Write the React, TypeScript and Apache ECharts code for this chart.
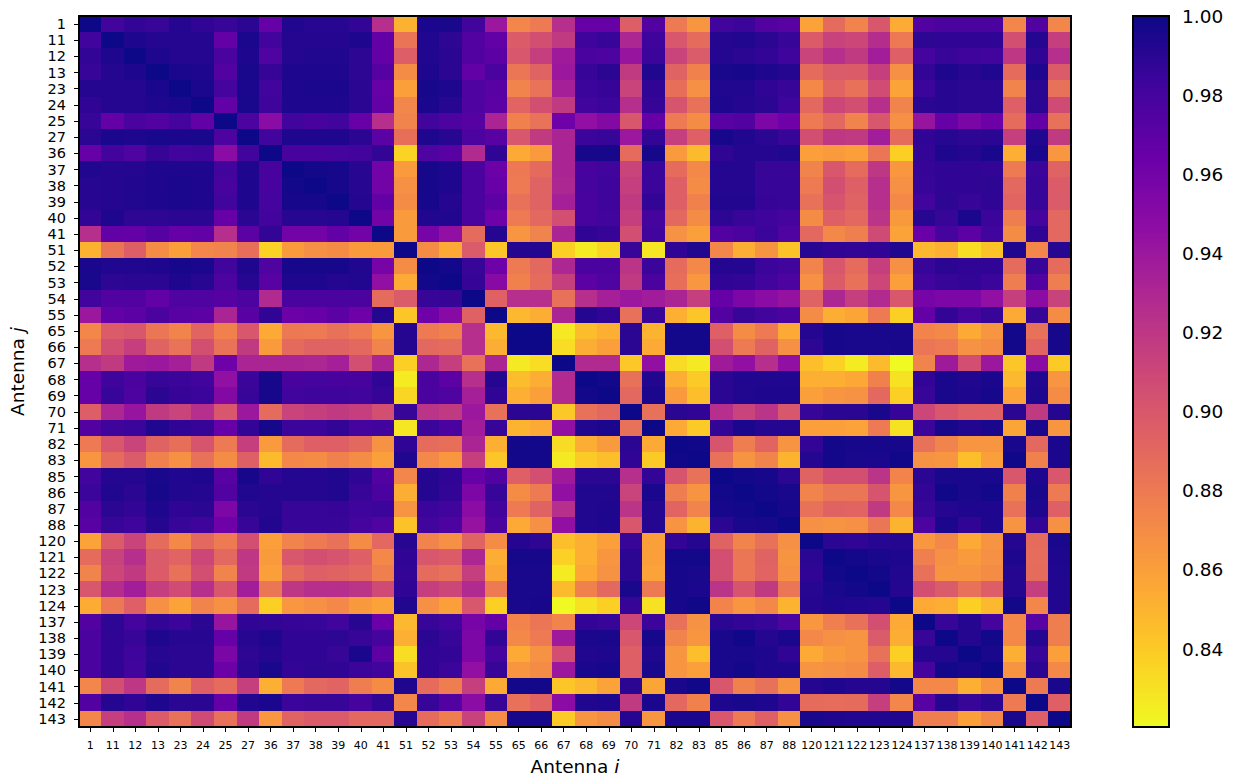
import React, { useEffect, useRef } from "react";
import * as echarts from "echarts";

const antennas = ["1","11","12","13","23","24","25","27","36","37","38","39","40","41","51","52","53","54","55","65","66","67","68","69","70","71","82","83","85","86","87","88","120","121","122","123","124","137","138","139","140","141","142","143"];

// Upper triangle of the symmetric matrix, in thousandths; each row starts at its diagonal cell.
const r1 = [1000,982,987,985,992,988,985,990,966,993,991,991,987,925,851,995,996,982,940,873,880,925,966,966,896,975,880,865,982,984,974,972,858,888,875,900,854,975,978,978,978,873,975,873];
const r11 = [1000,994,992,992,992,967,995,981,992,992,992,994,968,883,993,989,974,968,897,905,918,983,985,930,983,900,888,992,993,990,985,897,913,910,926,881,989,988,988,988,905,992,915];
const r12 = [1000,994,992,992,978,994,976,992,993,993,989,967,896,993,990,975,970,900,915,938,978,977,942,984,912,898,992,990,987,983,912,925,918,936,895,980,985,983,982,920,988,925];
const r13 = [1000,995,994,974,996,986,994,994,994,989,973,870,994,990,968,978,882,893,940,985,990,918,993,893,876,996,997,994,992,888,898,897,915,868,987,994,991,993,888,994,897];
const r23 = [1000,995,980,995,982,994,995,995,990,966,860,997,994,976,972,875,884,935,984,986,912,988,886,868,993,993,988,985,872,892,885,907,858,984,991,990,990,875,990,885];
const r24 = [1000,968,996,983,994,994,994,990,968,873,995,991,976,970,892,905,918,982,984,925,986,902,885,994,992,990,983,890,910,905,925,875,990,991,990,990,895,990,908];
const r25 = [1000,977,948,982,979,982,965,925,875,982,977,973,932,876,884,962,945,952,900,965,880,870,972,975,955,962,880,890,875,900,868,942,966,956,963,888,967,885];
const r27 = [1000,982,994,994,994,990,971,886,994,991,977,972,900,918,932,984,985,940,987,915,895,997,993,990,985,905,920,918,936,888,988,991,989,990,915,993,918];
const r36 = [1000,979,979,980,981,987,836,976,972,928,988,855,862,932,997,997,888,997,862,847,988,992,992,993,860,862,860,882,838,987,994,992,996,852,995,864];
const r37 = [1000,998,997,991,960,862,997,994,978,963,881,889,932,979,982,912,984,888,872,992,992,985,985,875,900,888,920,864,986,988,988,987,880,984,893];
const r38 = [1000,997,991,960,868,997,994,978,965,880,893,930,980,983,915,984,895,870,992,992,985,985,880,905,895,925,868,985,988,988,989,890,985,897];
const r39 = [1000,992,968,870,997,992,978,970,885,893,935,979,983,918,987,895,876,993,993,986,985,885,902,893,925,872,982,989,985,988,892,985,898];
const r40 = [1000,960,862,993,993,978,962,880,890,905,979,982,915,980,890,870,989,985,983,980,870,895,890,922,863,991,985,995,984,878,980,890];
const r41 = [1000,862,958,945,888,992,865,875,932,988,986,905,982,867,860,975,978,984,976,890,872,877,908,858,964,980,970,982,870,988,890];
const r51 = [1000,870,855,898,842,992,992,838,826,835,985,828,988,993,873,853,866,843,991,988,987,988,993,848,852,832,843,994,873,991];
const r52 = [1000,998,985,962,880,890,930,978,978,922,984,888,872,992,992,984,982,875,900,888,915,868,985,990,988,988,888,985,888];
const r53 = [1000,986,950,876,888,915,970,976,918,978,886,864,988,987,982,977,868,897,885,910,860,982,985,987,984,878,975,878];
const r54 = [1000,894,925,925,885,925,935,940,937,932,915,966,955,948,943,893,930,915,928,900,958,955,955,945,915,948,913];
const r55 = [1000,848,853,932,992,988,885,985,852,842,975,985,982,978,870,853,857,880,838,967,987,980,985,855,985,870];
const r65 = [1000,1000,827,846,852,990,850,998,998,895,870,880,855,992,997,996,996,996,874,872,855,865,998,885,997];
const r66 = [1000,832,853,860,990,855,998,998,905,880,893,868,989,997,996,996,997,882,880,867,870,998,892,997];
const r67 = [1000,928,928,841,945,833,827,938,945,925,945,845,837,826,847,820,875,938,905,940,842,948,840];
const r68 = [1000,998,885,993,853,840,990,993,993,993,852,852,856,876,830,987,995,993,995,848,993,865];
const r69 = [1000,890,995,862,845,990,993,994,994,860,865,867,890,838,985,996,994,997,858,994,870];
const r70 = [1000,885,990,988,925,912,922,900,985,990,990,996,986,910,900,895,895,990,918,992];
const r71 = [1000,855,840,987,995,992,992,860,860,858,880,830,984,997,993,996,857,995,865];
const r82 = [1000,999,902,878,892,866,987,998,997,997,997,885,875,865,865,996,890,995];
const r83 = [1000,885,866,875,850,992,998,996,995,999,867,865,845,860,999,876,995];
const r85 = [1000,998,997,990,893,905,905,922,874,990,996,996,996,900,994,900];
const r86 = [1000,998,996,875,882,882,902,865,987,999,996,998,876,996,880];
const r87 = [1000,997,885,893,892,918,872,985,992,994,994,885,994,895];
const r88 = [1000,868,866,868,882,850,977,995,988,994,866,987,868];
const r120 = [1000,990,988,991,992,864,872,855,866,992,888,996];
const r121 = [1000,998,996,994,877,868,862,868,994,887,994];
const r122 = [1000,998,993,885,866,866,870,992,888,993];
const r123 = [1000,992,905,898,885,896,992,915,993];
const r124 = [1000,855,853,838,848,998,873,993];
const r137 = [1000,985,992,980,872,972,878];
const r138 = [1000,992,998,872,992,878];
const r139 = [1000,996,852,985,860];
const r140 = [1000,866,990,872];
const r141 = [1000,880,996];
const r142 = [1000,895];
const r143 = [1000];

const upperRows = [r1,r11,r12,r13,r23,r24,r25,r27,r36,r37,r38,r39,r40,r41,r51,r52,r53,r54,r55,r65,r66,r67,r68,r69,r70,r71,r82,r83,r85,r86,r87,r88,r120,r121,r122,r123,r124,r137,r138,r139,r140,r141,r142,r143];

const colorbarTicks = [0.84, 0.86, 0.88, 0.9, 0.92, 0.94, 0.96, 0.98, 1.0];
const valueMin = 0.8203;
const valueMax = 1.0;
const plasmaReversed = ["#f0f921","#fcce25","#fca636","#f2844b","#e16462","#cc4778","#b12a90","#8f0da4","#6a00a8","#41049d","#0d0887"];

const FONT = "DejaVu Sans";

function buildCells() {
  const cells: number[][] = [];
  upperRows.forEach((row, i) => {
    row.forEach((v, k) => {
      const j = i + k;
      cells.push([j, i, v / 1000]);
      if (j !== i) cells.push([i, j, v / 1000]);
    });
  });
  return cells;
}

export default function App() {
  const ref = useRef<HTMLDivElement>(null);
  useEffect(() => {
    document.body.style.margin = "0";
    const chart = echarts.init(ref.current!, undefined, { renderer: "svg" });
    const nameRich = {
      a: { fontFamily: FONT, fontSize: 18.5, color: "#000" },
      b: { fontFamily: FONT, fontSize: 18.5, fontStyle: "italic", color: "#000" },
    };
    const lineStyle = { color: "#000", width: 1.3 };
    chart.setOption({
      animation: false,
      backgroundColor: "#fff",
      grid: [
        { left: 79, top: 16, width: 992, height: 711, outerBoundsMode: "none" },
        { left: 1133, top: 16, width: 36, height: 711, outerBoundsMode: "none" },
      ],
      xAxis: [
        {
          type: "category",
          data: antennas,
          gridIndex: 0,
          position: "bottom",
          name: "{a|Antenna }{b|i}",
          nameLocation: "middle",
          nameGap: 30,
          nameTextStyle: { rich: nameRich },
          splitArea: { show: false },
          splitLine: { show: false },
          axisLine: { show: true, lineStyle },
          axisTick: { show: true, alignWithLabel: true, length: 5, lineStyle },
          axisLabel: { interval: 0, fontFamily: FONT, fontSize: 11, color: "#000", margin: 13, hideOverlap: false },
        },
        { type: "value", gridIndex: 1, min: 0, max: 1, show: false },
      ],
      yAxis: [
        {
          type: "category",
          data: antennas,
          gridIndex: 0,
          inverse: true,
          name: "{a|Antenna }{b|j}",
          nameLocation: "middle",
          nameGap: 52,
          nameRotate: 90,
          nameTextStyle: { rich: nameRich },
          splitArea: { show: false },
          splitLine: { show: false },
          axisLine: { show: true, lineStyle },
          axisTick: { show: true, alignWithLabel: true, length: 5, lineStyle },
          axisLabel: { interval: 0, fontFamily: FONT, fontSize: 14.5, color: "#000", margin: 13, hideOverlap: false },
        },
        {
          type: "value",
          gridIndex: 1,
          position: "right",
          min: valueMin,
          max: valueMax,
          splitLine: { show: false },
          axisLine: { show: false },
          axisTick: { show: true, length: 5, lineStyle, customValues: colorbarTicks },
          axisLabel: {
            show: true,
            fontFamily: FONT,
            fontSize: 18.5,
            color: "#000",
            margin: 13,
            customValues: colorbarTicks,
            formatter: (v: number) => v.toFixed(2),
          },
        },
      ],
      visualMap: {
        type: "continuous",
        seriesIndex: 0,
        min: valueMin,
        max: valueMax,
        calculable: false,
        realtime: false,
        hoverLink: false,
        left: 1133,
        top: 16,
        padding: 0,
        itemWidth: 36,
        itemHeight: 711,
        text: ["", ""],
        inRange: { color: plasmaReversed },
      },
      series: [
        {
          type: "heatmap",
          xAxisIndex: 0,
          yAxisIndex: 0,
          data: buildCells(),
          itemStyle: { borderWidth: 0 },
          emphasis: { disabled: true },
          progressive: 0,
        },
      ],
      graphic: [
        {
          type: "rect",
          z: 100,
          silent: true,
          shape: { x: 79, y: 16, width: 992, height: 711 },
          style: { fill: "none", stroke: "#000", lineWidth: 1.5 },
        },
        {
          type: "rect",
          z: 100,
          silent: true,
          shape: { x: 1133, y: 16, width: 36, height: 711 },
          style: { fill: "none", stroke: "#000", lineWidth: 1.3 },
        },
      ],
    });
    return () => chart.dispose();
  }, []);
  return (
    <>
      <style>{`#heat-chart svg path { shape-rendering: crispEdges; }`}</style>
      <div id="heat-chart" ref={ref} style={{ width: 1239, height: 775 }} />
    </>
  );
}
